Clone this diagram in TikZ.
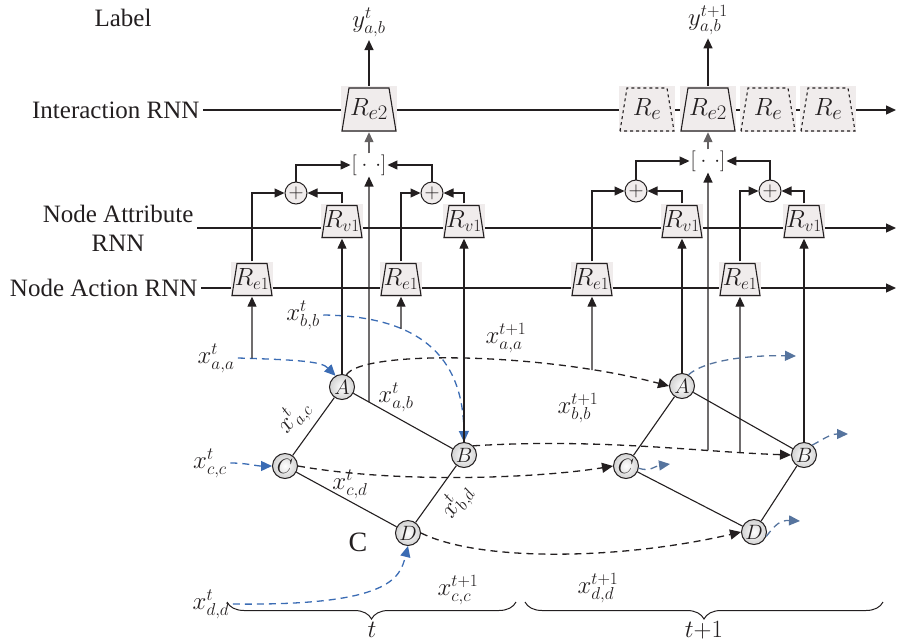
\documentclass[tikz,border=0pt]{standalone}
\usepackage{fontspec}
\setmainfont{Liberation Serif}
\usetikzlibrary{arrows.meta,positioning,calc,decorations.pathreplacing,intersections}
\definecolor{ink}{HTML}{231F20}
\definecolor{flow}{HTML}{3B6CB4}
\definecolor{flowout}{HTML}{56749E}
\definecolor{shade}{HTML}{F0ECEC}

\begin{document}
\begin{tikzpicture}[x=1pt, y=-1pt,
  every node/.style={font=\fontsize{25}{29}\selectfont, text=ink},
  rnn/.style={minimum width=56pt, minimum height=46pt, inner sep=0pt, fill=shade,
              font=\fontsize{28}{28}\selectfont,
              path picture={\draw[ink, line width=1.1pt, #1]
                ($(path picture bounding box.south west)+(1pt,1pt)$) --
                ($(path picture bounding box.north west)+(8pt,-2pt)$) --
                ($(path picture bounding box.north east)+(-8pt,-2pt)$) --
                ($(path picture bounding box.south east)+(-1pt,1pt)$) -- cycle;}},
  rnn/.default=solid,
  cell/.style={minimum width=42pt, minimum height=35pt, inner sep=0pt, fill=shade,
               font=\fontsize{24}{24}\selectfont,
               path picture={\draw[ink, line width=1.1pt]
                ($(path picture bounding box.south west)+(1pt,1pt)$) --
                ($(path picture bounding box.north west)+(6pt,-2pt)$) --
                ($(path picture bounding box.north east)+(-6pt,-2pt)$) --
                ($(path picture bounding box.south east)+(-1pt,1pt)$) -- cycle;}},
  sumnode/.style={circle, draw=ink, line width=1pt, fill=shade, minimum size=22pt,
                  inner sep=0pt, font=\fontsize{22}{22}\selectfont},
  concat/.style={inner sep=1pt, font=\fontsize{21}{21}\selectfont},
  vert/.style={circle, draw=ink, line width=1pt, inner color=white, outer color=gray!35,
               minimum size=25pt, inner sep=0pt, font=\fontsize{22}{22}\selectfont},
  arr/.style={-{Triangle[length=10pt, width=9pt]}, line width=1.3pt, draw=ink},
  link/.style={line width=1.1pt, draw=ink},
  jump/.style={-{Triangle[length=11pt, width=10pt]}, line width=1.3pt, draw=ink,
               dash pattern=on 7pt off 5pt},
  feed/.style={jump, draw=flow},
  spill/.style={jump, draw=flowout},
  tspan/.style={decorate, decoration={brace, mirror, amplitude=17pt}, line width=1pt, draw=ink}
]
  \useasboundingbox (0,0) rectangle (898,641);

  % layer labels and their lines
  \node (lbl) at (123,18) {Label};
  \node[anchor=east] (lint) at (203,110) {Interaction RNN};
  \node[anchor=east, align=center] (latt) at (197,228) {Node Attribute\\RNN};
  \node[anchor=east] (lact) at (201,288) {Node Action RNN};

  \coordinate (iend) at (896,110);
  \coordinate (aend) at (896,228);
  \coordinate (nend) at (896,288);
  \draw[arr] (lint) -- (iend);
  \draw[arr] (latt) -- (aend);
  \draw[arr] (lact) -- (nend);

  % step t
  \node[rnn] (re2t) at (369,109) {$R_{e2}$};
  \node (yt) at (369,22) {$y^{t}_{a,b}$};
  \node[concat] (catt) at (369,165) {$\big[\cdot\,\cdot\big]$};
  \node[sumnode] (sumtl) at (296,193) {$+$};
  \node[sumnode] (sumtr) at (432,193) {$+$};
  \node[cell] (rvtl) at (342,221) {$R_{v1}$};
  \node[cell] (rvtr) at (464,221) {$R_{v1}$};
  \node[cell] (retl) at (252,279) {$R_{e1}$};
  \node[cell] (retr) at (401,279) {$R_{e1}$};

  \draw[arr] (retl.north) |- (sumtl.west);
  \draw[arr] (rvtl.north) |- (sumtl.east);
  \draw[arr] (sumtl.north) |- (catt.west);
  \draw[arr] (retr.north) |- (sumtr.west);
  \draw[arr] (rvtr.north) |- (sumtr.east);
  \draw[arr] (sumtr.north) |- (catt.east);
  \draw[arr, draw=ink!70] (catt) -- (re2t);
  \draw[arr] (re2t) -- (yt);

  % step t+1
  \node[rnn=dashed] (ren1) at (647,109) {$R_e$};
  \node[rnn] (re2n) at (708,109) {$R_{e2}$};
  \node[rnn=dashed] (ren2) at (768,109) {$R_e$};
  \node[rnn=dashed] (ren3) at (828,109) {$R_e$};
  \node (yn) at (708,20) {$y^{t+1}_{a,b}$};
  \node[concat] (catn) at (708,161) {$\big[\cdot\,\cdot\big]$};
  \node[sumnode] (sumnl) at (636,191) {$+$};
  \node[sumnode] (sumnr) at (770,191) {$+$};
  \node[cell] (rvnl) at (682,221) {$R_{v1}$};
  \node[cell] (rvnr) at (804,221) {$R_{v1}$};
  \node[cell] (renl) at (592,279) {$R_{e1}$};
  \node[cell] (renr) at (740,279) {$R_{e1}$};

  \draw[arr] (renl.north) |- (sumnl.west);
  \draw[arr] (rvnl.north) |- (sumnl.east);
  \draw[arr] (sumnl.north) |- (catn.west);
  \draw[arr] (renr.north) |- (sumnr.west);
  \draw[arr] (rvnr.north) |- (sumnr.east);
  \draw[arr] (sumnr.north) |- (catn.east);
  \draw[arr, draw=ink!70] (catn) -- (re2n);
  \draw[arr] (re2n) -- (yn);

  % graph at t
  \node[vert] (At) at (342,387) {$A$};
  \node[vert] (Bt) at (464,455) {$B$};
  \node[vert] (Ct) at (285,466) {$C$};
  \node[vert] (Dt) at (408,533) {$D$};
  \draw[link, name path=edgeab] (At) -- (Bt);
  \draw[link] (At) -- (Ct);
  \draw[link] (Ct) -- (Dt);
  \draw[link] (Bt) -- (Dt);

  \node[rotate=52] (eac) at (294,417) {$x^{t}_{a,c}$};
  \node (eab) at (396,397) {$x^{t}_{a,b}$};
  \node (ecd) at (350,484) {$x^{t}_{c,d}$};
  \node[rotate=58] (ebd) at (457,502) {$x^{t}_{b,d}$};
  \node[font=\fontsize{28}{28}\selectfont] (cmark) at (358,542) {C};

  % graph at t+1
  \node[vert] (An) at (682,386) {$A$};
  \node[vert] (Bn) at (804,455) {$B$};
  \node[vert] (Cn) at (626,466) {$C$};
  \node[vert] (Dn) at (754,532) {$D$};
  \draw[link] (An) -- (Bn);
  \draw[link] (An) -- (Cn);
  \draw[link] (Cn) -- (Dn);
  \draw[link] (Bn) -- (Dn);

  % inputs at t
  \node (xaa) at (216,358) {$x^{t}_{a,a}$};
  \node (xbb) at (303,315) {$x^{t}_{b,b}$};
  \node (xcc) at (210,463) {$x^{t}_{c,c}$};
  \node (xdd) at (211,604) {$x^{t}_{d,d}$};

  \draw[feed, name path=aain] (xaa.east) .. controls (305,360) and (322,362) .. (At.120);
  \draw[feed, name path=bbin] (xbb.east) .. controls (405,316) and (463,345) .. (Bt.north);
  \draw[feed] (xcc.east) to[out=0, in=180] (Ct.west);
  \draw[feed] (xdd.east) .. controls (390,606) and (400,578) .. (Dt.south);

  \path[name path=vaa] (retl) -- ++(0,150);
  \path[name path=vbb] (retr) -- ++(0,150);
  \path[name path=vab] (catt) -- ++(0,300);
  \draw[arr, name intersections={of=aain and vaa}] (intersection-1) -- (retl);
  \draw[arr, name intersections={of=bbin and vbb}] (intersection-1) -- (retr);
  \draw[arr, name intersections={of=edgeab and vab}] (intersection-1) -- (catt);
  \draw[arr] (At) -- (rvtl);
  \draw[arr] (Bt) -- (rvtr);

  % from t to t+1
  \node (xaan) at (506,338) {$x^{t+1}_{a,a}$};
  \node (xbbn) at (578,408) {$x^{t+1}_{b,b}$};
  \node (xccn) at (458,590) {$x^{t+1}_{c,c}$};
  \node (xddn) at (598,588) {$x^{t+1}_{d,d}$};

  \draw[jump, name path=aanext] (At.70) .. controls (362,350) and (540,352) .. (An.west);
  \draw[jump, name path=bbnext] (Bt.north east) .. controls (600,438) and (700,452) .. (Bn.west);
  \draw[jump] (Ct.east) .. controls (400,484) and (540,478) .. (Cn.west);
  \draw[jump] (Dt.east) .. controls (480,562) and (620,560) .. (Dn.west);

  \path[name path=vaan] (renl) -- ++(0,150);
  \path[name path=vabn] (catn) -- ++(0,350);
  \path[name path=vbbn] (renr) -- ++(0,250);
  \draw[arr, name intersections={of=aanext and vaan}] (intersection-1) -- (renl);
  \draw[arr, name intersections={of=bbnext and vabn}] (intersection-1) -- (catn);
  \draw[arr, name intersections={of=bbnext and vbbn}] (intersection-1) -- (renr);
  \draw[arr] (An) -- (rvnl);
  \draw[arr] (Bn) -- (rvnr);

  % outputs at t+1
  \coordinate (aout) at (796,356);
  \coordinate (bout) at (848,434);
  \coordinate (cout) at (670,464);
  \coordinate (dout) at (800,521);
  \draw[spill] (An.60) .. controls (705,360) and (750,355) .. (aout);
  \draw[spill] (Bn.50) .. controls (822,440) and (830,434) .. (bout);
  \draw[spill] (Cn.-10) .. controls (650,472) and (655,466) .. (cout);
  \draw[spill] (Dn.-20) .. controls (775,525) and (780,520) .. (dout);

  % time spans
  \coordinate (tl) at (227,602);
  \coordinate (tr) at (516,602);
  \coordinate (nl) at (525,602);
  \coordinate (nr) at (883,602);
  \draw[tspan] (tl) -- (tr);
  \draw[tspan] (nl) -- (nr);
  \node[inner sep=1pt] (tnow) at (372,630) {$t$};
  \node[inner sep=1pt] (tnext) at (704,630) {$t{+}1$};
\end{tikzpicture}
\end{document}
